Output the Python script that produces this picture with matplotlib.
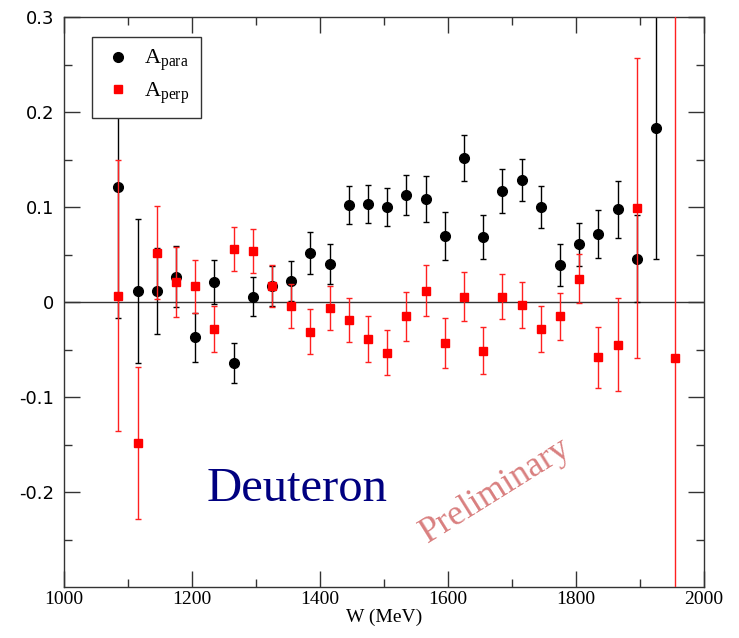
import numpy as np
import matplotlib.pyplot as plt
from matplotlib.lines import Line2D

# beam energy bins (MeV)
w_para = [1085, 1115, 1145, 1175, 1205, 1235, 1265, 1295, 1325, 1355, 1385, 1415,
          1445, 1475, 1505, 1535, 1565, 1595, 1625, 1655, 1685, 1715, 1745, 1775,
          1805, 1835, 1865, 1895, 1925]
a_para = [0.121, 0.012, 0.012, 0.027, -0.037, 0.021, -0.064, 0.006, 0.017, 0.022, 0.052, 0.040,
          0.102, 0.104, 0.100, 0.113, 0.109, 0.070, 0.152, 0.069, 0.117, 0.129, 0.100, 0.039,
          0.061, 0.072, 0.098, 0.046, 0.184]
e_para = [0.138, 0.076, 0.045, 0.032, 0.026, 0.023, 0.021, 0.021, 0.021, 0.021, 0.022, 0.021,
          0.020, 0.020, 0.020, 0.021, 0.024, 0.025, 0.024, 0.023, 0.023, 0.022, 0.022, 0.022,
          0.023, 0.025, 0.030, 0.046, 0.138]

w_perp = [1085, 1115, 1145, 1175, 1205, 1235, 1265, 1295, 1325, 1355, 1385, 1415,
          1445, 1475, 1505, 1535, 1565, 1595, 1625, 1655, 1685, 1715, 1745, 1775,
          1805, 1835, 1865, 1895, 1955]
a_perp = [0.007, -0.148, 0.052, 0.021, 0.017, -0.028, 0.056, 0.054, 0.017, -0.004, -0.031, -0.006,
          -0.019, -0.039, -0.053, -0.015, 0.012, -0.043, 0.006, -0.051, 0.006, -0.003, -0.028, -0.015,
          0.025, -0.058, -0.045, 0.099, -0.059]
e_perp = [0.143, 0.080, 0.049, 0.037, 0.028, 0.024, 0.023, 0.023, 0.022, 0.023, 0.024, 0.023,
          0.023, 0.024, 0.024, 0.026, 0.027, 0.026, 0.026, 0.025, 0.024, 0.024, 0.024, 0.025,
          0.026, 0.032, 0.049, 0.158, 0.500]

serif = 'Liberation Serif'
plt.rcParams['mathtext.fontset'] = 'custom'
plt.rcParams['mathtext.rm'] = serif

fig = plt.figure(figsize=(7.39, 6.38), dpi=100)
ax = fig.add_axes([0.0866, 0.0799, 0.866, 0.8927])

ax.axhline(0, color='#333333', lw=1.0, zorder=1)

ax.errorbar(w_para, a_para, yerr=e_para, fmt='o', color='black', ms=7, lw=1.0,
            capsize=2.5, capthick=1.0, zorder=2)
ax.errorbar(w_perp, a_perp, yerr=e_perp, fmt='s', color='red', ecolor='#ff2020', ms=5.5, lw=1.0,
            capsize=2.5, capthick=1.0, zorder=3)

ax.set_xlim(1000, 2000)
ax.set_ylim(-0.3, 0.3)
ax.set_xticks(np.arange(1000, 2001, 200))
ax.set_xticks(np.arange(1100, 2000, 200), minor=True)
ax.set_yticks(np.arange(-0.2, 0.31, 0.1))
ax.set_yticks(np.arange(-0.25, 0.3, 0.1), minor=True)
ax.set_yticklabels(['-0.2', '-0.1', '0', '0.1', '0.2', '0.3'], fontsize=13)
ax.set_xticklabels(['1000', '1200', '1400', '1600', '1800', '2000'], family=serif, fontsize=14)

ax.tick_params(which='both', direction='in', top=True, right=True, color='#333333', width=1.0)
ax.tick_params(which='major', length=11.5)
ax.tick_params(which='minor', length=6)
ax.tick_params(axis='y', pad=7)
ax.tick_params(axis='x', pad=3)
for s in ax.spines.values():
    s.set_color('#333333')
    s.set_linewidth(1.0)

ax.set_xlabel('W (MeV)', family=serif, fontsize=14, labelpad=0)

ax.text(1223, -0.209, 'Deuteron', family=serif, fontsize=35, color='#000080',
        ha='left', va='baseline')
ax.text(1674, -0.199, 'Preliminary', family=serif, fontsize=26, color='#d98080',
        rotation=32, ha='center', va='center', rotation_mode='anchor')

# legend shows markers only
handles = [Line2D([], [], ls='none', marker='o', color='black', ms=7),
           Line2D([], [], ls='none', marker='s', color='red', ms=5.5)]
labels = [r'$\mathrm{A}_{\mathrm{para}}$', r'$\mathrm{A}_{\mathrm{perp}}$']
leg = ax.legend(handles, labels, loc='upper left', bbox_to_anchor=(0.044, 0.966), borderaxespad=0,
                fancybox=False, framealpha=1, edgecolor='#333333', fontsize=16,
                handlelength=1.3, handletextpad=0.55, borderpad=0.5, labelspacing=0.3,
                handleheight=0.7)
leg.get_frame().set_linewidth(1.0)

fig.savefig('out.png', dpi=100)
